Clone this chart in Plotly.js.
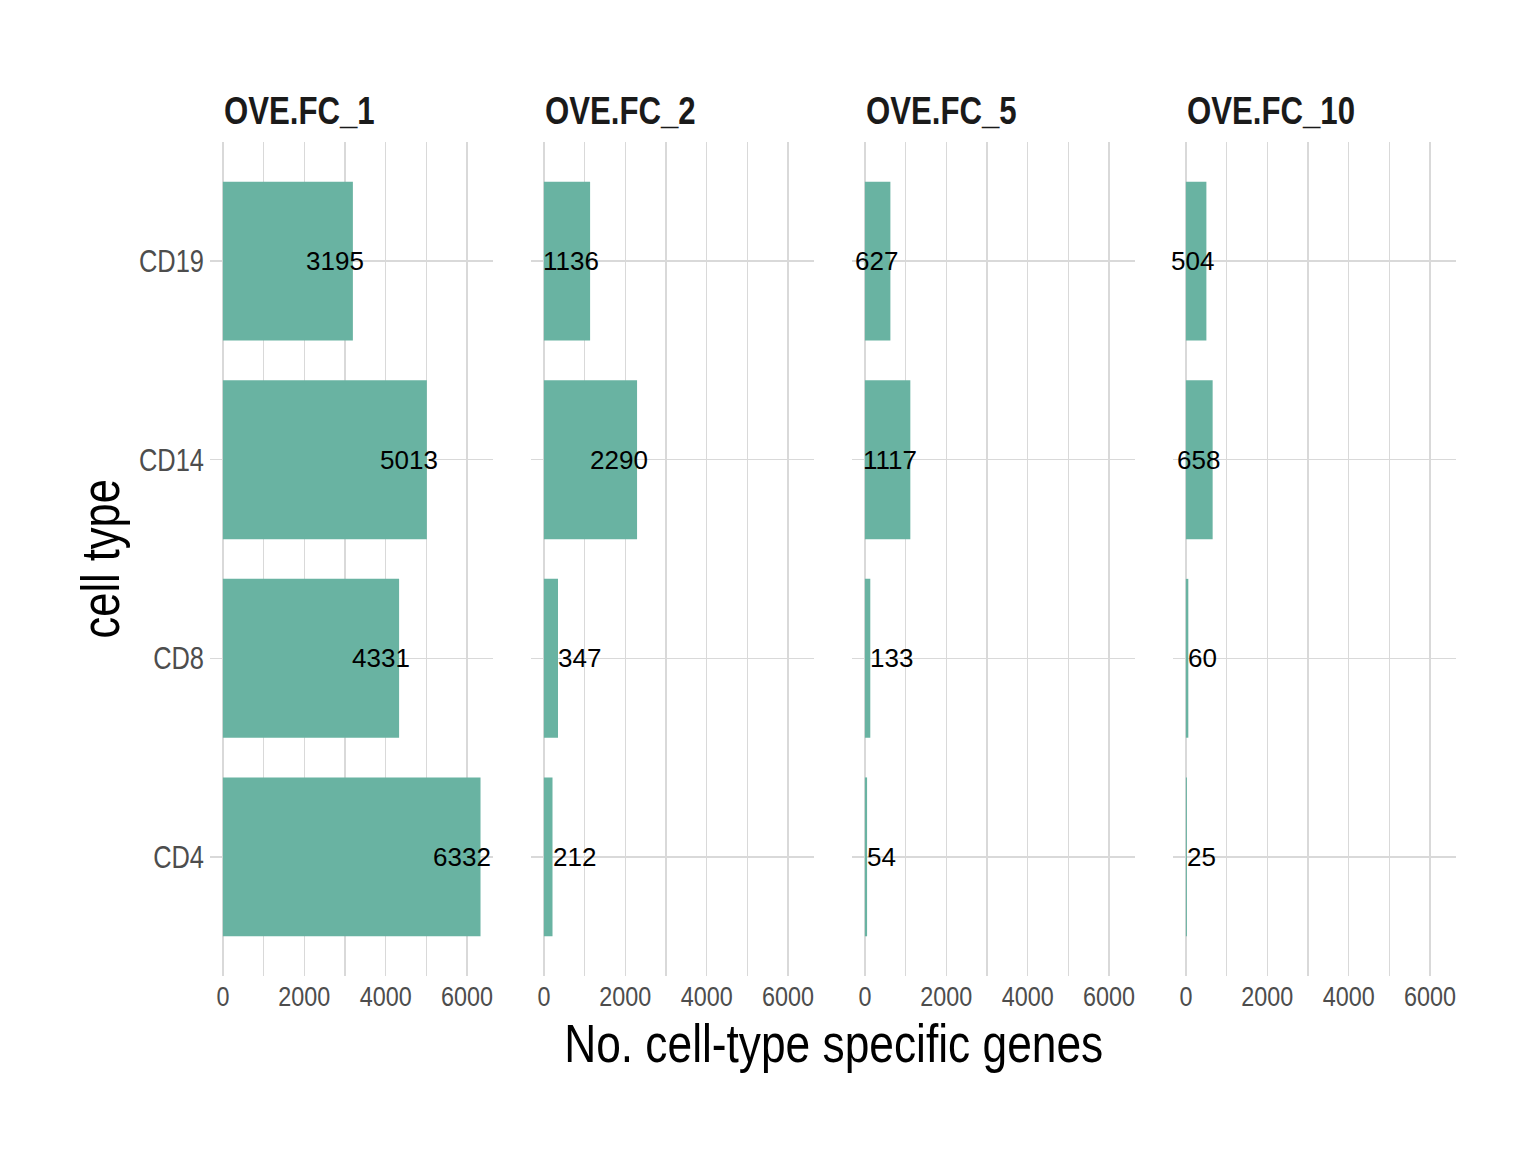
<!DOCTYPE html>
<html>
<head>
<meta charset="utf-8">
<script src="https://cdn.plot.ly/plotly-3.0.1.min.js"></script>
<style>html,body{margin:0;padding:0;background:#fff;}#chart{width:1536px;height:1152px;}</style>
</head>
<body>
<div id="chart"></div>
<script>
// ---- data ----
const cellTypes = ["CD4", "CD8", "CD14", "CD19"];
const facets = ["OVE.FC_1", "OVE.FC_2", "OVE.FC_5", "OVE.FC_10"];
const fc1 = [6332, 4331, 5013, 3195];
const fc2 = [212, 347, 2290, 1136];
const fc5 = [54, 133, 1117, 627];
const fc10 = [25, 60, 658, 504];
const xTickVals = [0, 2000, 4000, 6000];
const xTickText = ["0", "2000", "4000", "6000"];
const xTitle = "No. cell-type specific genes";
const yTitle = "cell type";

// ---- layout ----
const W = 1536, H = 1152;
const series = [fc1, fc2, fc5, fc10];
const panelLeft = [210, 531, 852, 1173];
const panelW = 283.4;
const panelTop = 142, panelBottom = 976;
const barColor = "#69b3a2";
const gridColor = "#d9d9d9";
const sans = "'Liberation Sans', Arial, sans-serif";
const NARROW = 0.82;

const maxVal = Math.max(...[].concat(...series));
const pad = maxVal * 0.05;
const xRange = [-pad, maxVal + pad];

const traces = [];
const annotations = [];
const layout = {
  width: W, height: H,
  margin: {l: 0, r: 0, t: 0, b: 0},
  paper_bgcolor: "#fff", plot_bgcolor: "#fff",
  showlegend: false,
  font: {family: sans, color: "#4d4d4d"},
};

const labelFont = 26;
const digitW = 14.75;

series.forEach((vals, i) => {
  const ax = i === 0 ? "" : String(i + 1);
  traces.push({
    type: "bar", orientation: "h",
    x: vals, y: cellTypes,
    xaxis: "x" + ax, yaxis: "y" + ax,
    width: 0.8,
    marker: {color: barColor, line: {width: 0}},
    hoverinfo: "x+y",
  });
  layout["xaxis" + ax] = {
    domain: [panelLeft[i] / W, (panelLeft[i] + panelW) / W],
    anchor: "y" + ax,
    range: xRange,
    tickvals: xTickVals, ticktext: xTickText,
    showgrid: true, gridcolor: gridColor, gridwidth: 1.3,
    minor: {dtick: 1000, tick0: 0, showgrid: true, gridcolor: gridColor, gridwidth: 1.3},
    zeroline: false, showline: false, ticks: "",
    ticklabelstandoff: 0,
    tickfont: {family: sans, size: 28.5, color: "#4d4d4d"},
    fixedrange: true,
  };
  layout["yaxis" + ax] = {
    domain: [1 - panelBottom / H, 1 - panelTop / H],
    anchor: "x" + ax,
    type: "category",
    categoryorder: "array", categoryarray: cellTypes,
    range: [-0.6, cellTypes.length - 0.4],
    showgrid: true, gridcolor: gridColor, gridwidth: 1.3,
    zeroline: false, showline: false, ticks: "",
    showticklabels: i === 0,
    ticklabelstandoff: 5,
    tickfont: {family: sans, size: 31, color: "#4d4d4d"},
    fixedrange: true,
  };
  // facet title
  annotations.push({
    text: "<b>" + facets[i] + "</b>",
    xref: "paper", yref: "paper",
    x: (panelLeft[i] + 13) / W, y: 1 - 111 / H,
    xanchor: "left", yanchor: "middle", align: "left",
    showarrow: false, borderpad: 0,
    font: {family: sans, size: 38, color: "#1a1a1a"},
    name: "narrow",
  });
  // value labels
  vals.forEach((v, j) => {
    const hj = v < 500 ? 0 : 0.8;
    const w = String(v).length * digitW;
    annotations.push({
      text: String(v),
      xref: "x" + ax, yref: "y" + ax,
      x: v, y: cellTypes[j],
      xanchor: "left", yanchor: "middle",
      xshift: -hj * w - 1,
      showarrow: false, borderpad: 0,
      font: {family: sans, size: labelFont, color: "#000"},
    });
  });
});

// axis titles
annotations.push({
  text: xTitle, xref: "paper", yref: "paper",
  x: (panelLeft[0] + panelLeft[3] + panelW) / 2 / W, y: 1 - 1043 / H,
  xanchor: "center", yanchor: "middle", showarrow: false, borderpad: 0,
  font: {family: sans, size: 54, color: "#000"},
  name: "narrow",
});
annotations.push({
  text: yTitle, xref: "paper", yref: "paper",
  x: 100 / W, y: 1 - 559 / H, textangle: -90,
  xanchor: "center", yanchor: "middle", showarrow: false, borderpad: 0,
  font: {family: sans, size: 53, color: "#000"},
  name: "narrow",
});
layout.annotations = annotations;

function condense(el) {
  const w = el.getComputedTextLength();
  if (w > 0) {
    el.setAttribute("textLength", (w * NARROW).toFixed(2));
    el.setAttribute("lengthAdjust", "spacingAndGlyphs");
  }
}

Plotly.newPlot("chart", traces, layout, {displayModeBar: false, staticPlot: true}).then(gd => {
  gd.querySelectorAll(".xaxislayer-above text, .yaxislayer-above text").forEach(condense);
  gd.querySelectorAll("g.annotation").forEach(g => {
    const idx = +g.getAttribute("data-index");
    if (annotations[idx] && annotations[idx].name === "narrow") {
      g.querySelectorAll("text.annotation-text").forEach(condense);
    }
  });
});
</script>
</body>
</html>
